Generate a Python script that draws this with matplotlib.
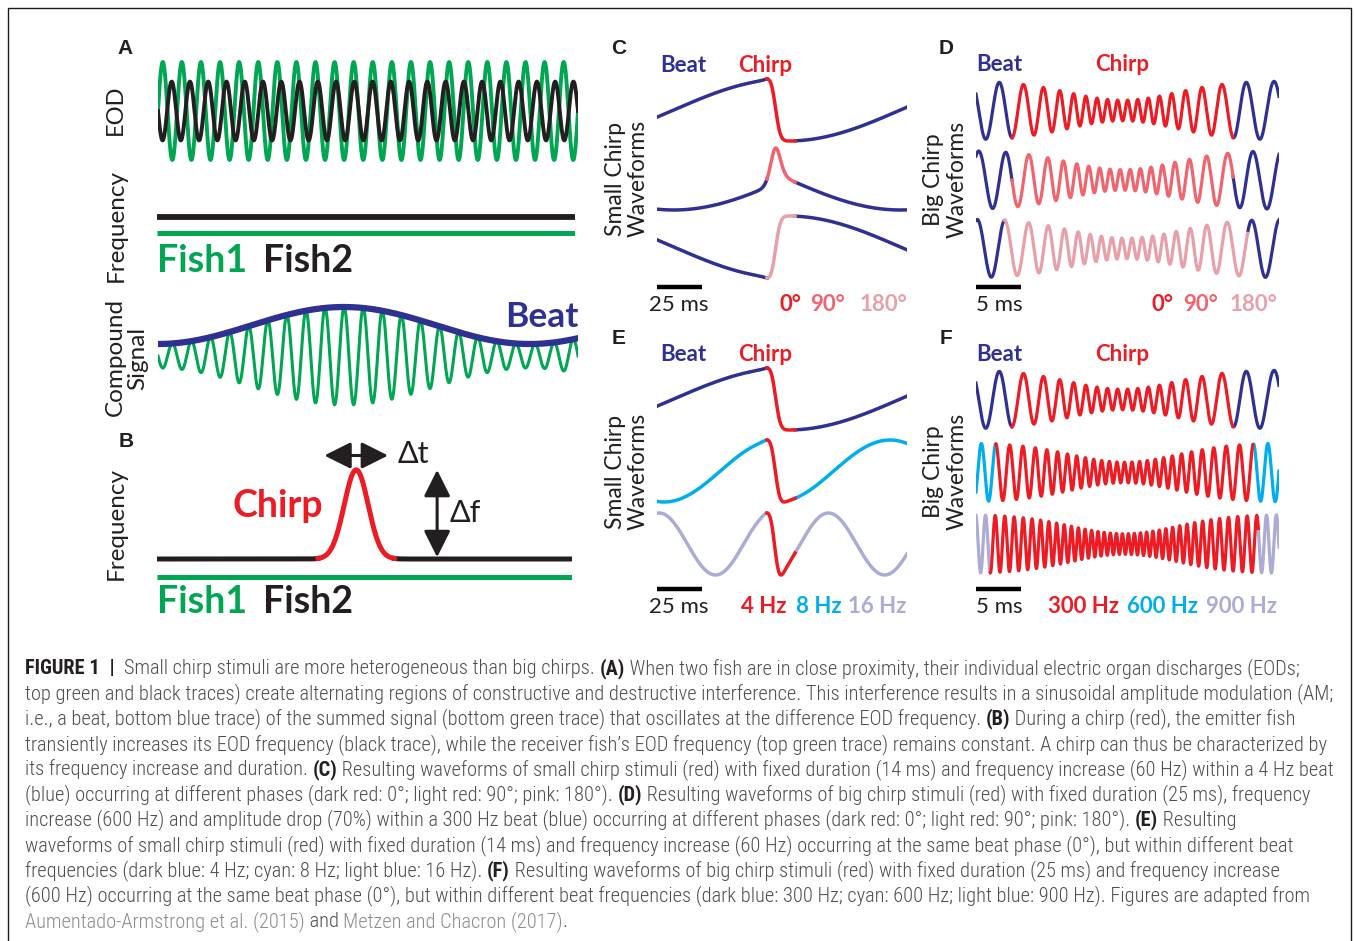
import os
import numpy as np
import matplotlib
matplotlib.use("Agg")
from matplotlib import pyplot as plt
from matplotlib import font_manager
from matplotlib.font_manager import FontProperties
from matplotlib.patches import Rectangle

W, H = 1354, 941

NAVY = "#2e3192"
RED = "#ed1c24"
LRED = "#f0646e"
PINK = "#e8a0a8"
CYAN = "#00aeef"
LAV = "#aaacd6"
GREEN = "#00a651"
BLACK = "#231f20"

# ---------------- data ----------------
# panel A: EOD cycles across the window (Fish1 green, Fish2 black)
eod_cycles = [22, 23]
eod_amp = [1.0, 0.6]
eod_start_deg = [0, 180]
# compound signal
compound_cycles = 22
compound_beat_cycles = 1.13
compound_env = [0.24, 0.98]          # min, max of envelope
# panel B: chirp of fish2 (same frequency units as eod_cycles)
chirp_b_center = 0.48
chirp_b_sigma = 0.029
chirp_b_df = 4.95
chirp_b_half = 0.092

# panels C / E: small chirps (ms, Hz)
small_window_ms = 138.9
small_on_ms, small_center_ms, small_off_ms = 61.1, 65.6, 76.7
small_df_hz, small_sigma_ms = 60, 3.3
c_labels = ["0°", "90°", "180°"]
c_beat_hz = [4, 4, 4]
c_onset_deg = [90, 0, -90]           # beat phase (sine) at chirp onset
e_labels = ["4 Hz", "8 Hz", "16 Hz"]
e_beat_hz = [4, 8, 16]
e_onset_deg = [90, 90, 90]

# panels D / F: big chirps
big_window_ms = 33.7
big_df_hz, big_sigma_ms, big_drop = 600, 5.95, 0.65
d_labels = ["0°", "90°", "180°"]
d_beat_hz = [300, 300, 300]
d_on_ms = [4.0, 4.0, 3.2]
d_off_ms = [28.6, 28.6, 30.2]
d_onset_deg = [-90, 180, 90]
f_labels = ["300 Hz", "600 Hz", "900 Hz"]
f_beat_hz = [300, 600, 900]
f_on_ms = [4.0, 2.2, 1.6]
f_off_ms = [28.6, 30.8, 31.4]
f_onset_deg = [-90, 90, -90]

caption = [
    [("FIGURE 1", "b"), ("  |  ", "b"), ("Small chirp stimuli are more heterogeneous than big chirps. ", "n"), ("(A)", "b"),
     (" When two fish are in close proximity, their individual electric organ discharges (EODs;", "n")],
    [("top green and black traces) create alternating regions of constructive and destructive interference. This interference results in a sinusoidal amplitude modulation (AM;", "n")],
    [("i.e., a beat, bottom blue trace) of the summed signal (bottom green trace) that oscillates at the difference EOD frequency. ", "n"), ("(B)", "b"),
     (" During a chirp (red), the emitter fish", "n")],
    [("transiently increases its EOD frequency (black trace), while the receiver fish\u2019s EOD frequency (top green trace) remains constant. A chirp can thus be characterized by", "n")],
    [("its frequency increase and duration. ", "n"), ("(C)", "b"),
     (" Resulting waveforms of small chirp stimuli (red) with fixed duration (14 ms) and frequency increase (60 Hz) within a 4 Hz beat", "n")],
    [("(blue) occurring at different phases (dark red: 0°; light red: 90°; pink: 180°). ", "n"), ("(D)", "b"),
     (" Resulting waveforms of big chirp stimuli (red) with fixed duration (25 ms), frequency", "n")],
    [("increase (600 Hz) and amplitude drop (70%) within a 300 Hz beat (blue) occurring at different phases (dark red: 0°; light red: 90°; pink: 180°). ", "n"),
     ("(E)", "b"), (" Resulting", "n")],
    [("waveforms of small chirp stimuli (red) with fixed duration (14 ms) and frequency increase (60 Hz) occurring at the same beat phase (0°), but within different beat", "n")],
    [("frequencies (dark blue: 4 Hz; cyan: 8 Hz; light blue: 16 Hz). ", "n"), ("(F)", "b"),
     (" Resulting waveforms of big chirp stimuli (red) with fixed duration (25 ms) and frequency increase", "n")],
    [("(600 Hz) occurring at the same beat phase (0°), but within different beat frequencies (dark blue: 300 Hz; cyan: 600 Hz; light blue: 900 Hz). Figures are adapted from", "n")],
    [("Aumentado-Armstrong et al. (2015)", "l"), (" and ", "n"), ("Metzen and Chacron (2017)", "l"), (".", "n")],
]
# right ends of the caption lines in the reference (px)
caption_right = [1312, 1336, 1300, 1337, 1335, 1318, 1254, 1292, 1290, 1328, 575]

# ---------------- helpers ----------------
LAB = ["Lato", "DejaVu Sans"]
LET = ["Liberation Sans", "DejaVu Sans"]

# narrow font for the caption, if one is installed
files = {os.path.basename(f.fname).lower(): f.fname for f in font_manager.fontManager.ttflist}
cap_pairs = [("robotocondensed-light.ttf", "robotocondensed-bold.ttf"),
             ("robotocondensed-regular.ttf", "robotocondensed-bold.ttf"),
             ("liberationsansnarrow-regular.ttf", "liberationsansnarrow-bold.ttf"),
             ("notosans-condensed.ttf", "notosans-condensedbold.ttf"),
             ("notosans-condensed-regular.ttf", "notosans-condensed-bold.ttf"),
             ("dejavusanscondensed.ttf", "dejavusanscondensed-bold.ttf")]
cap_files = None
for reg, bold in cap_pairs:
    if reg in files and bold in files:
        cap_files = (files[reg], files[bold])
        break


def cap_prop(size, weight):
    if cap_files:
        return FontProperties(fname=cap_files[1] if weight == "bold" else cap_files[0], size=size)
    return FontProperties(family="Liberation Sans", weight=weight, size=size)


fig = plt.figure(figsize=(W / 100, H / 100), dpi=100)
fig.patch.set_facecolor("white")
fig.add_artist(Rectangle((8 / W, -0.02), (1351 - 8) / W, 1.02 - 8 / H,
                         transform=fig.transFigure, fill=False, lw=1.0, ec="#1a1a1a"))


def put(x, y, s, size, color=BLACK, weight="normal", family=LAB, **kw):
    return fig.text(x / W, 1 - y / H, s, fontsize=size, color=color,
                    fontweight=weight, family=family, **kw)


def axes_px(x0, x1, y0, y1):
    ax = fig.add_axes([x0 / W, 1 - y1 / H, (x1 - x0) / W, (y1 - y0) / H])
    ax.axis("off")
    return ax


def chirp_wave(t, beat_hz, on, center, sigma, df, drop, onset_deg):
    g = np.exp(-0.5 * ((t - center) / sigma) ** 2)
    freq = beat_hz + df * g
    ph = np.concatenate([[0], np.cumsum(0.5 * (freq[1:] + freq[:-1]) * np.diff(t))])
    ph = 2 * np.pi * ph / 1000
    ph += np.radians(onset_deg) - np.interp(on, t, ph)
    return (1 - drop * g) * np.sin(ph)


def draw_chirp(ax, t, y, on, off, beat_col, chirp_col, lw):
    pre, post = t <= on, t >= off
    mid = (t >= on) & (t <= off)
    ax.plot(t[pre], y[pre], color=beat_col, lw=lw)
    ax.plot(t[post], y[post], color=beat_col, lw=lw)
    ax.plot(t[mid], y[mid], color=chirp_col, lw=lw)


def wave_panel(x0, x1, y0, y1, tmax, mids, unit, bar_y, bar_ms):
    ax = axes_px(x0, x1, y0, y1)
    ax.set_xlim(0, tmax)
    ax.set_ylim(-(y1 - mids[0]) / unit, (mids[0] - y0) / unit)
    offs = [-(m - mids[0]) / unit for m in mids]
    ax.plot([0, bar_ms], [-(bar_y - mids[0]) / unit] * 2, color="black", lw=3.2,
            solid_capstyle="butt", clip_on=False)
    return ax, offs


# ---------------- panel A ----------------
put(125, 48, "A", 15, weight="bold", family=LET, ha="center", va="center")
put(115, 110, "EOD", 17, rotation=90, ha="center", va="center")
put(116, 226, "Frequency", 17.5, rotation=90, ha="center", va="center")

ax = axes_px(158, 578, 55, 168)
ax.set_xlim(0, 1)
ax.set_ylim(-(168 - 111) / 49, (111 - 55) / 49)
x = np.linspace(0, 1, 4000)
for cyc, amp, ph0, col in zip(eod_cycles, eod_amp, eod_start_deg, [GREEN, BLACK]):
    ax.plot(x, amp * np.sin(2 * np.pi * cyc * x + np.radians(ph0)), color=col, lw=2.8)

ax = axes_px(157, 575, 200, 250)
ax.set_xlim(0, 1)
ax.set_ylim(eod_cycles[1] - (250 - 217) / 16, eod_cycles[1] + (217 - 200) / 16)
ax.plot([0, 1], [eod_cycles[1]] * 2, color=BLACK, lw=4.2, solid_capstyle="butt")
ax.plot([0, 1], [eod_cycles[0]] * 2, color=GREEN, lw=3.6, solid_capstyle="butt")

put(157, 272, "Fish1", 27, color=GREEN, weight="bold")
put(263, 272, "Fish2", 27, color=BLACK, weight="bold")

put(115, 357, "Compound", 17.5, rotation=90, ha="center", va="center")
put(138, 358, "Signal", 17.5, rotation=90, ha="center", va="center")

ax = axes_px(158, 578, 290, 420)
ax.set_xlim(0, 1)
ax.set_ylim(-(420 - 356) / 50, (356 - 290) / 50)
emin, emax = compound_env
env = (emin + emax) / 2 - (emax - emin) / 2 * np.cos(2 * np.pi * compound_beat_cycles * x)
ax.plot(x, env * np.sin(2 * np.pi * compound_cycles * x + np.pi), color=GREEN, lw=2.2)
ax.plot(x, env, color=NAVY, lw=4.5, solid_capstyle="round")
put(578, 327, "Beat", 25.5, color=NAVY, weight="bold", ha="right")

# ---------------- panel B ----------------
put(126, 441, "B", 15, weight="bold", family=LET, ha="center", va="center")
put(116, 524, "Frequency", 17.5, rotation=90, ha="center", va="center")

ax = axes_px(157, 572, 440, 590)
ax.set_xlim(0, 1)
f2 = eod_cycles[1]
ax.set_ylim(f2 - (590 - 559) / 18, f2 + (559 - 440) / 18)
xb = np.union1d(np.linspace(0, 1, 3000), [chirp_b_center - chirp_b_half, chirp_b_center + chirp_b_half])
fb = f2 + chirp_b_df * np.exp(-0.5 * ((xb - chirp_b_center) / chirp_b_sigma) ** 2)
inside = np.abs(xb - chirp_b_center) <= chirp_b_half
ax.plot(xb[xb <= chirp_b_center - chirp_b_half], fb[xb <= chirp_b_center - chirp_b_half], color=BLACK, lw=3.6)
ax.plot(xb[xb >= chirp_b_center + chirp_b_half], fb[xb >= chirp_b_center + chirp_b_half], color=BLACK, lw=3.6)
ax.plot(xb[inside], fb[inside], color=RED, lw=3.6)
ax.plot([0, 1], [eod_cycles[0]] * 2, color=GREEN, lw=3.6, solid_capstyle="butt")
arrow = dict(arrowstyle="<|-|>,head_length=0.9,head_width=0.45", color=BLACK, lw=2.2,
             shrinkA=0, shrinkB=0, mutation_scale=18)
ya = f2 + chirp_b_df + 0.8
ax.annotate("", xy=(chirp_b_center - 2.65 * chirp_b_sigma, ya),
            xytext=(chirp_b_center + 2.65 * chirp_b_sigma, ya), arrowprops=arrow, annotation_clip=False)
ax.annotate("", xy=(0.675, f2 + chirp_b_df), xytext=(0.675, f2 + 0.1), arrowprops=arrow)
put(398, 463, "\u0394t", 22, family=LAB)
put(450, 522, "\u0394f", 22, family=LAB)
put(232, 517, "Chirp", 27, color=RED, weight="bold")
put(157, 613, "Fish1", 27, color=GREEN, weight="bold")
put(263, 613, "Fish2", 27, color=BLACK, weight="bold")

# ---------------- panels C and E ----------------
ts = np.union1d(np.linspace(0, small_window_ms, 4000), [small_on_ms, small_off_ms])
for (ylab, beat_hz, onset, labels, mids, bar_y, letter, beat_cols, chirp_cols, label_cols) in [
        (72, c_beat_hz, c_onset_deg, c_labels, [110, 179, 247], 287, "C",
         [NAVY] * 3, [RED, LRED, PINK], [RED, LRED, PINK]),
        (361, e_beat_hz, e_onset_deg, e_labels, [399, 471, 544], 589, "E",
         [NAVY, CYAN, LAV], [RED] * 3, [RED, CYAN, LAV])]:
    put(619, ylab - 23, letter, 15, weight="bold", family=LET, ha="center", va="center")
    put(660, ylab, "Beat", 16, color=NAVY, weight="bold")
    put(738, ylab, "Chirp", 16, color=RED, weight="bold")
    cy = (mids[0] + mids[2]) / 2
    put(616, cy, "Small Chirp", 16.5, rotation=90, ha="center", va="center")
    put(638, cy, "Waveforms", 16.5, rotation=90, ha="center", va="center")
    ax, offs = wave_panel(657, 907, ylab - 20, bar_y + 8, small_window_ms, mids, 31, bar_y, 25)
    for fb_, on_deg, off, bc, cc in zip(beat_hz, onset, offs, beat_cols, chirp_cols):
        y = chirp_wave(ts, fb_, small_on_ms, small_center_ms, small_sigma_ms, small_df_hz, 0, on_deg)
        draw_chirp(ax, ts, y + off, small_on_ms, small_off_ms, bc, cc, 2.5)
    put(649, bar_y + 24, "25 ms", 16)
    xs = [780, 810, 860] if letter == "C" else [741, 796, 848]
    for xl, s, col in zip(xs, labels, label_cols):
        put(xl, bar_y + 24, s, 16, color=col, weight="bold")

# ---------------- panels D and F ----------------
for (ylab, beat_hz, ons, offs_ms, onset, labels, mids, bar_y, letter, beat_cols, chirp_cols, label_cols, xs) in [
        (71, d_beat_hz, d_on_ms, d_off_ms, d_onset_deg, d_labels, [110.5, 180, 248.5], 287, "D",
         [NAVY] * 3, [RED, LRED, PINK], [RED, LRED, PINK], [1152, 1183, 1230]),
        (361, f_beat_hz, f_on_ms, f_off_ms, f_onset_deg, f_labels, [399.5, 472.5, 544], 589, "F",
         [NAVY, CYAN, LAV], [RED] * 3, [RED, CYAN, LAV], [1048, 1127, 1206])]:
    put(946, ylab - 22, letter, 15, weight="bold", family=LET, ha="center", va="center")
    put(976, ylab, "Beat", 16, color=NAVY, weight="bold")
    put(1095, ylab, "Chirp", 16, color=RED, weight="bold")
    cy = (mids[0] + mids[2]) / 2
    put(933, cy, "Big Chirp", 16.5, rotation=90, ha="center", va="center")
    put(957, cy, "Waveforms", 16.5, rotation=90, ha="center", va="center")
    ax, offs = wave_panel(976, 1279, ylab - 20, bar_y + 8, big_window_ms, mids, 29.5, bar_y, 5)
    for fb_, on, off_ms, on_deg, off, bc, cc in zip(beat_hz, ons, offs_ms, onset, offs, beat_cols, chirp_cols):
        tb = np.union1d(np.linspace(0, big_window_ms, 6000), [on, off_ms])
        y = chirp_wave(tb, fb_, on, (on + off_ms) / 2, big_sigma_ms, big_df_hz, big_drop, on_deg)
        draw_chirp(ax, tb, y + off, on, off_ms, bc, cc, 2.3)
    put(976, bar_y + 24, "5 ms", 16)
    for xl, s, col in zip(xs, labels, label_cols):
        put(xl, bar_y + 24, s, 16, color=col, weight="bold")

# ---------------- caption ----------------
styles = {"n": ("normal", "#4d4d4d"), "b": ("bold", "#231f20"), "l": ("normal", "#8c8c8c")}
renderer = fig.canvas.get_renderer()


def run_width(s, size, weight):
    a = fig.text(0, 0, "|" + s + "|", fontproperties=cap_prop(size, weight))
    b = fig.text(0, 0, "||", fontproperties=cap_prop(size, weight))
    w = a.get_window_extent(renderer).width - b.get_window_extent(renderer).width
    a.remove()
    b.remove()
    return w


# one size for all lines: the largest that keeps every line inside its reference width
cap_size = min(10 * (r - 25) / sum(run_width(s, 10, styles[k][0]) for s, k in line)
               for line, r in zip(caption[:-1], caption_right[:-1]))
baselines = [674 + i * 25.3 for i in range(len(caption))]
for line, yb in zip(caption, baselines):
    xc = 25
    for s, k in line:
        wt, col = styles[k]
        fig.text(xc / W, 1 - yb / H, s, fontproperties=cap_prop(cap_size, wt), color=col, va="baseline")
        xc += run_width(s, cap_size, wt)

fig.savefig("out.png", dpi=100)
